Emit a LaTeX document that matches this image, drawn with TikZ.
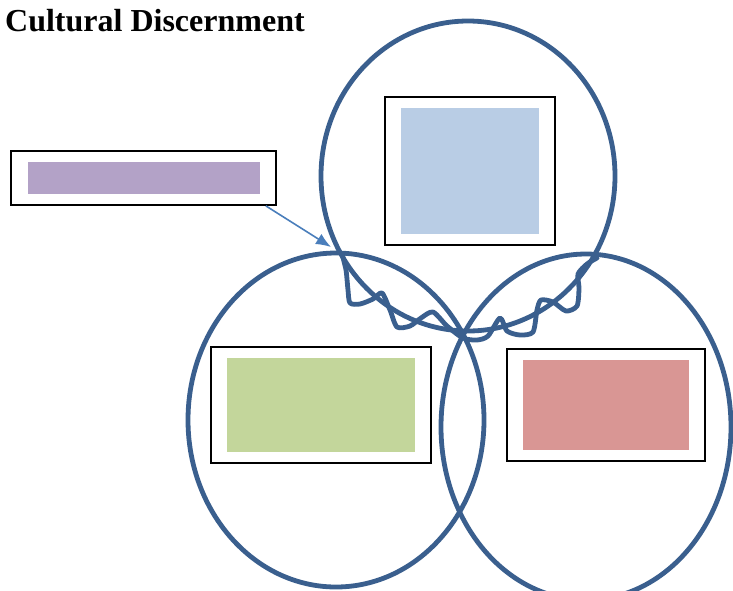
\documentclass[tikz,border=0pt]{standalone}
\usepackage{fontspec}
\setmainfont{Liberation Serif}
\usepackage{tikz}
\usetikzlibrary{arrows.meta}
\usetikzlibrary{shapes.geometric}
\definecolor{cd-ring}{HTML}{3A5F8E}
\definecolor{cd-arrow}{HTML}{4A7EBB}
\definecolor{cd-blue}{HTML}{B9CDE5}
\definecolor{cd-green}{HTML}{C3D69B}
\definecolor{cd-red}{HTML}{D99694}
\definecolor{cd-purple}{HTML}{B3A2C7}

\begin{document}
\begin{tikzpicture}[
    x=1pt, y=-1pt,
    ring/.style={draw=cd-ring, line width=4.8pt, ellipse, inner sep=0pt},
    frame/.style={draw=black, line width=1.8pt, inner sep=0pt},
    patch/.style={inner sep=0pt, draw=none},
    pointer/.style={-{Latex[length=15pt,width=12pt]}, draw=cd-arrow, fill=cd-arrow, line width=1.6pt},
    squiggle/.style={draw=cd-ring, line width=4.8pt, line join=round, line cap=round}
]
\useasboundingbox (0,0) rectangle (733,590);
\clip (0,0) rectangle (733,590);

% =========================================================================
% TITULO
% =========================================================================
\node[anchor=base west, inner sep=0pt, font=\fontsize{32}{38}\selectfont\bfseries] (title) at (5,31) {Cultural Discernment};

% =========================================================================
% TRES ELIPSES
% =========================================================================
\node[ring, minimum width=294pt, minimum height=310pt] (top)   at (468,176) {};
\node[ring, minimum width=296pt, minimum height=334pt] (left)  at (336,420) {};
\node[ring, minimum width=290pt, minimum height=346pt] (right) at (586,427) {};

% =========================================================================
% CAIXAS
% =========================================================================
\node[frame, minimum width=170pt, minimum height=148pt] (topbox) at (470,171) {};
\node[patch, fill=cd-blue, minimum width=138pt, minimum height=126pt] (topfill) at (topbox.center) {};

\node[frame, minimum width=220pt, minimum height=116pt] (leftbox) at (321,405) {};
\node[patch, fill=cd-green, minimum width=188pt, minimum height=94pt] (leftfill) at (leftbox.center) {};

\node[frame, minimum width=198pt, minimum height=112pt] (rightbox) at (606,405) {};
\node[patch, fill=cd-red, minimum width=166pt, minimum height=90pt] (rightfill) at (rightbox.center) {};

\node[frame, minimum width=265pt, minimum height=54pt] (notebox) at (143.5,178) {};
\node[patch, fill=cd-purple, minimum width=232pt, minimum height=32pt] (notefill) at (notebox.center) {};

% =========================================================================
% SETA
% =========================================================================
\coordinate (tip) at (331,247);
\draw[pointer] ([xshift=-11pt]notebox.south east) -- (tip);

% =========================================================================
% LINHA ONDULADA
% =========================================================================
\draw[squiggle] plot[smooth, tension=0.45] coordinates {
    (342,254) (346,270) (348,290) (350,303) (360,304) (373,299) (382,293)
    (390,310) (397,327) (410,326) (421,318) (433,312)
    (447,326) (463,338) (477,340) (488,336) (500,318)
    (507,331) (520,335) (533,332) (537,310) (541,300)
    (553,302) (566,311) (577,306) (579,288) (578,274) (587,264) (597,258)
};

\end{tikzpicture}
\end{document}
